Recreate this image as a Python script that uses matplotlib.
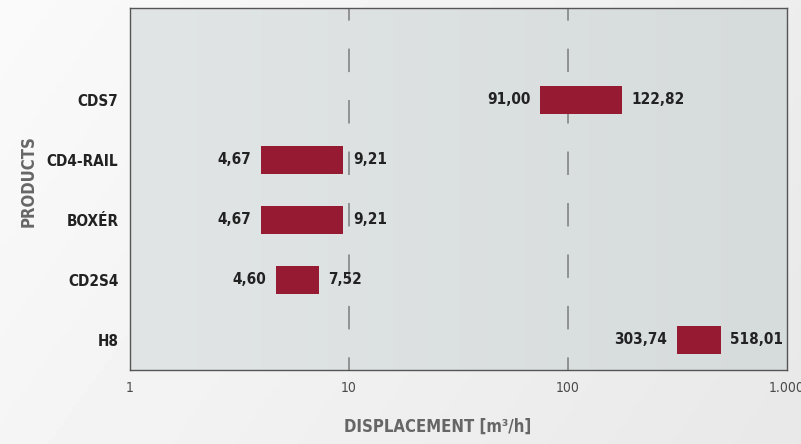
import matplotlib.pyplot as plt
import numpy as np

# products, bottom to top
products = ["H8", "CD2S4", "BOXÉR", "CD4-RAIL", "CDS7"]
# bar extents
bar_start = [316, 4.67, 3.98, 3.98, 74.9]
bar_end = [499, 7.31, 9.45, 9.45, 177]
# printed values next to the bars
label_min = ["303,74", "4,60", "4,67", "4,67", "91,00"]
label_max = ["518,01", "7,52", "9,21", "9,21", "122,82"]

xticks = [1, 10, 100, 1000]
xtick_labels = ["1", "10", "100", "1.000"]

plt.rcParams['font.family'] = ['DejaVu Sans']
plt.rcParams['font.stretch'] = 'condensed'

fig = plt.figure(figsize=(8.01, 4.44), dpi=100, facecolor="#eceeee")

# soft background shading behind everything
bg = fig.add_axes([0, 0, 1, 1], zorder=-5)
bg.axis("off")
gx_, gy_ = np.meshgrid(np.linspace(0, 1, 200), np.linspace(0, 1, 120))
shade = 0.96 - 0.05 * gx_ + 0.02 * (1 - gy_)
bg.imshow(shade, cmap="gray", vmin=0, vmax=1, extent=[0, 1, 0, 1], aspect="auto")

ax = fig.add_axes([0.1617, 0.1667, 0.8205, 0.8164])
ax.set_facecolor("none")
ax.set_xscale("log")

# plot area: light grey getting a bit darker to the right
grad = np.linspace(0, 1, 256).reshape(1, -1)
ax.imshow(grad, cmap=plt.matplotlib.colors.LinearSegmentedColormap.from_list("p", ["#e1e5e5", "#d6dbdc"]),
          extent=[0, 1, 0, 1], transform=ax.transAxes, aspect="auto", zorder=0)

y = np.arange(len(products))
ax.barh(y, np.array(bar_end) - np.array(bar_start), left=bar_start,
        height=0.46, color="#961a31", zorder=3)

# dashed vertical guides at 10 and 100
for gx in [10, 100]:
    ax.axvline(gx, color="#8a8c8c", lw=1.3, linestyle=(6, (13, 15.5)), zorder=2)

for yi, s, e, lo, hi in zip(y, bar_start, bar_end, label_min, label_max):
    ax.annotate(lo, (s, yi), xytext=(-7, 0), textcoords="offset points",
                ha="right", va="center", fontsize=11, fontweight="bold", color="#222222", zorder=4)
    ax.annotate(hi, (e, yi), xytext=(7, 0), textcoords="offset points",
                ha="left", va="center", fontsize=11, fontweight="bold", color="#222222", zorder=4)

ax.set_xlim(1, 1000)
ax.set_ylim(-0.5, 5.54)
ax.set_xticks(xticks)
ax.set_xticklabels(xtick_labels, fontsize=10, color="#4a4a4a")
ax.xaxis.set_minor_locator(plt.NullLocator())
ax.set_yticks(y)
ax.set_yticklabels(products, fontsize=11, fontweight="bold", color="#222222")
ax.tick_params(axis="both", length=0)
ax.tick_params(axis="x", pad=8)
ax.tick_params(axis="y", pad=8)

for sp in ax.spines.values():
    sp.set_color("#555555")
    sp.set_linewidth(1.0)
    sp.set_zorder(5)

ax.set_xlabel("DISPLACEMENT [m³/h]", fontsize=12, fontweight="bold", color="#666666")
ax.xaxis.set_label_coords((438 - 129.5) / 657.2, -0.157)
ax.set_ylabel("PRODUCTS", fontsize=12, fontweight="bold", color="#666666")
ax.yaxis.set_label_coords(-0.154, 0.52)
ax.yaxis.label.set_va("center")
ax.xaxis.label.set_va("center")

fig.savefig("out.png", dpi=100, facecolor=fig.get_facecolor())
